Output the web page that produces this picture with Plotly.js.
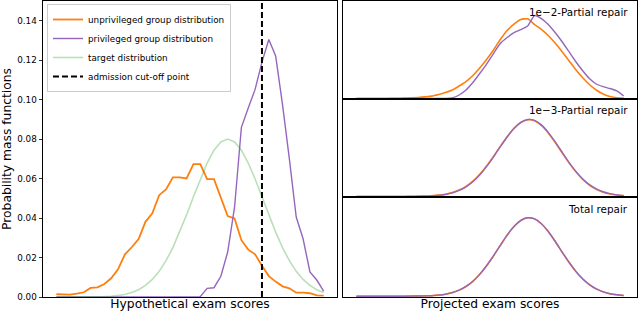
<!DOCTYPE html>
<html>
<head>
<meta charset="utf-8">
<script src="https://cdn.plot.ly/plotly-3.0.1.min.js"></script>
<style>
  html, body { margin: 0; padding: 0; background: #ffffff; }
  #chart { width: 640px; height: 313px; }
</style>
</head>
<body>
<div id="chart"></div>
<script>
// ---- data ----
const scores = [0,1,2,3,4,5,6,7,8,9,10,11,12,13,14,15,16,17,18,19,20,21,22,23,24,25,26,27,28,29,30,31,32,33,34,35,36,37,38,39];

const unprivileged = [0.0014,0.0012,0.0012,0.0017,0.0024,0.0046,0.0049,0.0066,0.0095,0.0140,
  0.0216,0.0252,0.0294,0.0381,0.0424,0.0516,0.0545,0.0606,0.0606,0.0601,
  0.0673,0.0673,0.0597,0.0597,0.0500,0.0410,0.0398,0.0288,0.0240,0.0216,
  0.0158,0.0106,0.0078,0.0054,0.0044,0.0022,0.0022,0.0019,0.0008,0.0007];

const privileged = [0,0,0,0,0,0,0,0,0,0,
  0,0,0,0,0,0,0,0,0,0,
  0,0.0002,0.0044,0.0047,0.0105,0.0228,0.0455,0.0860,0.0958,0.1052,
  0.1190,0.1305,0.1222,0.0975,0.0700,0.0405,0.0295,0.0127,0.0086,0.0030];

const target = [0,0,0,0,0,0.0001,0.0001,0.0002,0.0004,0.0008,
  0.0013,0.0023,0.0037,0.0059,0.0089,0.0130,0.0184,0.0250,0.0329,0.0416,
  0.0508,0.0598,0.0679,0.0744,0.0786,0.0800,0.0786,0.0744,0.0679,0.0598,
  0.0508,0.0416,0.0329,0.0250,0.0184,0.0130,0.0089,0.0059,0.0037,0.0023];

const cutoffScore = 30;
const pmfTop = 0.15;
const yTicks = [0,0.02,0.04,0.06,0.08,0.10,0.12,0.14];

// projected distributions
const unpriv_1e2 = [0,0,0,0,0,0.0001,0.0002,0.0004,0.0007,0.0010,
  0.0017,0.0024,0.0041,0.0061,0.0087,0.0128,0.0173,0.0235,0.0311,0.0398,
  0.0495,0.0602,0.0694,0.0760,0.0806,0.0813,0.0755,0.0706,0.0643,0.0566,
  0.0480,0.0388,0.0296,0.0214,0.0143,0.0087,0.0046,0.0020,0.0007,0.0005];
const priv_1e2 = [0,0,0,0,0,0,0,0,0,0,
  0,0,0,0,0.0007,0.0036,0.0087,0.0163,0.0255,0.0352,
  0.0459,0.0561,0.0622,0.0673,0.0704,0.0740,0.0847,0.0816,0.0755,0.0673,
  0.0582,0.0480,0.0378,0.0286,0.0204,0.0148,0.0122,0.0102,0.0077,0.0026];

const unpriv_1e3 = [0,0,0,0,0,0,0,0,0.0002,0.0003,
  0.0005,0.0008,0.0014,0.0024,0.0040,0.0066,0.0104,0.0158,0.0228,0.0313,
  0.0410,0.0513,0.0612,0.0697,0.0757,0.0786,0.0776,0.0728,0.0651,0.0555,
  0.0450,0.0347,0.0255,0.0178,0.0118,0.0075,0.0045,0.0026,0.0015,0.0008];
const priv_1e3 = [0,0,0,0,0,0,0,0,0.0001,0.0002,
  0.0003,0.0006,0.0012,0.0021,0.0037,0.0062,0.0099,0.0152,0.0221,0.0306,
  0.0404,0.0508,0.0609,0.0696,0.0758,0.0788,0.0779,0.0733,0.0657,0.0561,
  0.0456,0.0352,0.0260,0.0183,0.0122,0.0079,0.0049,0.0029,0.0017,0.0010];

const unpriv_total = [0,0,0,0,0,0,0,0,0.0001,0.0002,
  0.0003,0.0005,0.0011,0.0020,0.0036,0.0061,0.0098,0.0150,0.0220,0.0306,
  0.0405,0.0511,0.0614,0.0701,0.0762,0.0789,0.0778,0.0729,0.0651,0.0553,
  0.0447,0.0344,0.0252,0.0176,0.0117,0.0074,0.0044,0.0025,0.0014,0.0007];
const priv_total = [0,0,0,0,0,0,0,0,0.0001,0.0002,
  0.0003,0.0005,0.0011,0.0020,0.0036,0.0061,0.0098,0.0150,0.0220,0.0306,
  0.0405,0.0511,0.0614,0.0701,0.0762,0.0789,0.0778,0.0729,0.0651,0.0553,
  0.0447,0.0344,0.0252,0.0176,0.0117,0.0074,0.0044,0.0025,0.0014,0.0007];

const panelLabels = ['1e\u22122-Partial repair', '1e\u22123-Partial repair', 'Total repair'];
const legendNames = ['unprivileged group distribution', 'privileged group distribution', 'target distribution', 'admission cut-off point'];

// ---- styles ----
const ORANGE = '#ff7f0e';
const PURPLE = '#9467bd';
const GREEN = 'rgba(44,160,44,0.33)';
const FONT = 'DejaVu Sans, Liberation Sans, sans-serif';

const traces = [
  {x: scores, y: unprivileged, xaxis: 'x', yaxis: 'y', type: 'scatter', mode: 'lines',
   name: legendNames[0], line: {color: ORANGE, width: 1.8}},
  {x: scores, y: privileged, xaxis: 'x', yaxis: 'y', type: 'scatter', mode: 'lines',
   name: legendNames[1], line: {color: PURPLE, width: 1.4}},
  {x: scores, y: target, xaxis: 'x', yaxis: 'y', type: 'scatter', mode: 'lines',
   name: legendNames[2], line: {color: GREEN, width: 1.6}},
  {x: [cutoffScore, cutoffScore], y: [0, pmfTop], xaxis: 'x', yaxis: 'y', type: 'scatter', mode: 'lines',
   name: legendNames[3], line: {color: '#000000', width: 2, dash: '6px,3px'}}
];

const rightSets = [
  [unpriv_1e2, priv_1e2, 'x2', 'y2'],
  [unpriv_1e3, priv_1e3, 'x3', 'y3'],
  [unpriv_total, priv_total, 'x4', 'y4']
];
rightSets.forEach(function(s) {
  traces.push({x: scores, y: s[0], xaxis: s[2], yaxis: s[3], type: 'scatter', mode: 'lines',
    showlegend: false, hoverinfo: 'skip', line: {color: ORANGE, width: 1.6, shape: 'spline', smoothing: 0.5}});
  traces.push({x: scores, y: s[1], xaxis: s[2], yaxis: s[3], type: 'scatter', mode: 'lines',
    showlegend: false, hoverinfo: 'skip', line: {color: PURPLE, width: 1.4, shape: 'spline', smoothing: 0.5}});
});

const W = 640, H = 313;
const xr = [-1.95, 40.95];
function dx(a, b) { return [a / W, b / W]; }
function dy(top, bottom) { return [(H - bottom) / H, (H - top) / H]; }

function frameAxis(extra) {
  return Object.assign({
    showline: true, mirror: true, linecolor: '#000000', linewidth: 1,
    showgrid: false, zeroline: false, ticks: '', showticklabels: false
  }, extra);
}

const layout = {
  width: W, height: H,
  margin: {l: 0, r: 0, t: 0, b: 0},
  paper_bgcolor: '#ffffff', plot_bgcolor: '#ffffff',
  font: {family: FONT, color: '#000000', size: 9},
  showlegend: true,
  legend: {
    x: 47 / W, y: (H - 4) / H, xanchor: 'left', yanchor: 'top',
    bgcolor: 'rgba(255,255,255,0.85)', bordercolor: '#cccccc', borderwidth: 1,
    font: {family: FONT, size: 8.8, color: '#000000'}, tracegroupgap: 0
  },
  xaxis: frameAxis({domain: dx(43, 337), range: xr, anchor: 'y',
    title: {text: 'Hypothetical exam scores', font: {size: 12.3}, standoff: 2}}),
  yaxis: frameAxis({domain: dy(1, 297), range: [0, pmfTop], anchor: 'x',
    showticklabels: true, ticks: 'outside', ticklen: 3.5, tickwidth: 0.8, tickcolor: '#000000',
    tickvals: yTicks, tickformat: '.2f', tickfont: {size: 8.8},
    title: {text: 'Probability mass functions', font: {size: 12.3}, standoff: 3}}),
  xaxis2: frameAxis({domain: dx(343, 637), range: xr, anchor: 'y2'}),
  yaxis2: frameAxis({domain: dy(1, 99.3), range: [-0.0008, 0.0995], anchor: 'x2'}),
  xaxis3: frameAxis({domain: dx(343, 637), range: xr, anchor: 'y3'}),
  yaxis3: frameAxis({domain: dy(99.3, 197.3), range: [-0.0008, 0.0995], anchor: 'x3'}),
  xaxis4: frameAxis({domain: dx(343, 637), range: xr, anchor: 'y4',
    title: {text: 'Projected exam scores', font: {size: 12.3}, standoff: 2}}),
  yaxis4: frameAxis({domain: dy(197.3, 297), range: [-0.0008, 0.0995], anchor: 'x4'}),
  annotations: [
    {text: panelLabels[0], xref: 'x2 domain', yref: 'y2 domain', x: 0.976, y: 0.891,
     xanchor: 'right', yanchor: 'middle', showarrow: false, font: {size: 10.4}},
    {text: panelLabels[1], xref: 'x3 domain', yref: 'y3 domain', x: 0.976, y: 0.891,
     xanchor: 'right', yanchor: 'middle', showarrow: false, font: {size: 10.4}},
    {text: panelLabels[2], xref: 'x4 domain', yref: 'y4 domain', x: 0.976, y: 0.883,
     xanchor: 'right', yanchor: 'middle', showarrow: false, font: {size: 10.4}}
  ]
};

Plotly.newPlot('chart', traces, layout, {displayModeBar: false, staticPlot: true});
</script>
</body>
</html>
